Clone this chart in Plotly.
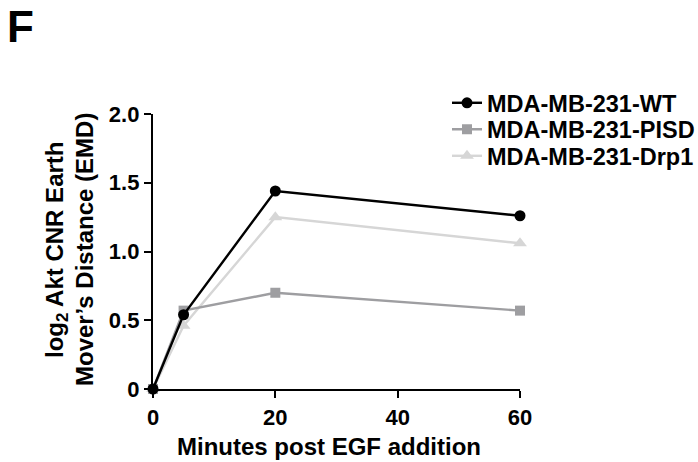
import plotly.graph_objects as go

minutes = [0, 5, 20, 60]
wt = [0.0, 0.54, 1.44, 1.26]
pisd = [0.0, 0.57, 0.70, 0.57]
drp1 = [0.0, 0.46, 1.25, 1.06]
names = ["MDA-MB-231-WT", "MDA-MB-231-PISD", "MDA-MB-231-Drp1"]
x_ticks = [0, 20, 40, 60]
y_ticks = [0, 0.5, 1.0, 1.5, 2.0]
y_tick_text = ["0", "0.5", "1.0", "1.5", "2.0"]
x_title = "Minutes post EGF addition"
y_title_lines = ["log<sub>2</sub> Akt CNR Earth", "Mover\u2019s Distance (EMD)"]

FONT = "Liberation Sans, Arial, sans-serif"

# plot area in pixels (used to place legend entries and free text)
L, R, T, B = 153, 178, 114, 73
PW, PH = 698 - L - R, 462 - T - B


def px_x(px):
    return (px - L) / PW


def px_y(py):
    return (462 - B - py) / PH


fig = go.Figure()
styles = [
    (wt, names[0], "#000000", "circle", 11, "legend", 103),
    (pisd, names[1], "#9e9ea1", "square", 10, "legend2", 129.5),
    (drp1, names[2], "#d6d6d6", "triangle-up", 12, "legend3", 156),
]
legend_layouts = {}
# draw lightest series first so the black line sits on top
for vals, name, color, sym, size, leg, row_y in reversed(styles):
    fig.add_trace(go.Scatter(
        x=minutes, y=vals, name=name, mode="lines+markers",
        line=dict(color=color, width=2.4),
        marker=dict(symbol=sym, size=size, color=color),
        cliponaxis=False, legend=leg,
    ))
    legend_layouts[leg] = dict(
        x=px_x(447), y=px_y(row_y), xanchor="left", yanchor="middle",
        font=dict(family=FONT, size=23.5, color="black", weight="bold"),
        itemwidth=30, bgcolor="rgba(0,0,0,0)",
    )

title_font = dict(family=FONT, size=24, color="black", weight="bold")
annotations = [
    dict(text="<b>F</b>", xref="paper", yref="paper", x=px_x(5), y=px_y(0),
         xanchor="left", yanchor="top", showarrow=False,
         font=dict(family=FONT, size=44, color="black")),
    dict(text=x_title, xref="paper", yref="paper", x=px_x(329), y=px_y(446),
         xanchor="center", yanchor="middle", showarrow=False, font=title_font),
]
for line, cx in zip(y_title_lines, [56, 84]):
    annotations.append(dict(
        text=line, xref="paper", yref="paper", x=px_x(cx), y=px_y(250),
        xanchor="center", yanchor="middle", textangle=-90, showarrow=False,
        font=title_font,
    ))

fig.update_layout(
    width=698, height=462,
    paper_bgcolor="white", plot_bgcolor="white",
    margin=dict(l=L, r=R, t=T, b=B, autoexpand=False),
    font=dict(family=FONT, size=22, color="black"),
    showlegend=True,
    xaxis=dict(
        range=[0, 60], tickvals=x_ticks, showgrid=False, zeroline=False,
        showline=True, linecolor="black", linewidth=2.4,
        ticks="outside", ticklen=7, tickwidth=2.4, tickcolor="black",
        tickfont=dict(family=FONT, size=22, weight="bold"),
        automargin=False,
    ),
    yaxis=dict(
        range=[0, 2.0], tickvals=y_ticks, ticktext=y_tick_text,
        showgrid=False, zeroline=False,
        showline=True, linecolor="black", linewidth=2.4,
        ticks="outside", ticklen=7, tickwidth=2.4, tickcolor="black",
        tickfont=dict(family=FONT, size=22, weight="bold"),
        automargin=False,
    ),
    annotations=annotations,
    **legend_layouts,
)

fig.write_html("out.html")
